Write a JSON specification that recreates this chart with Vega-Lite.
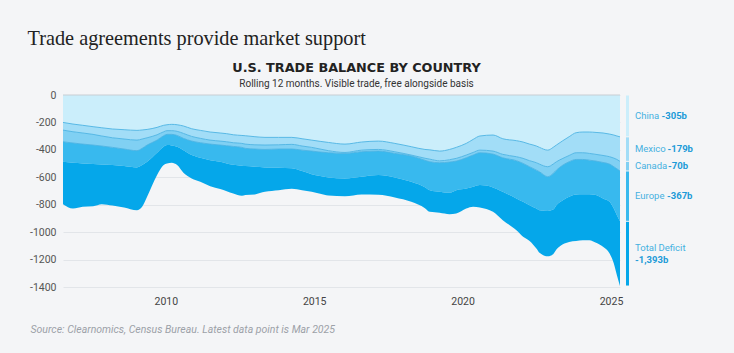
{
 "$schema": "https://vega.github.io/schema/vega-lite/v6.json",
 "width": 557,
 "height": 192,
 "autosize": {"type": "none"},
 "padding": {"left": 63, "top": 95, "right": 114, "bottom": 66},
 "background": "#f4f5f7",
 "config": {"view": {"stroke": null}, "font": "Roboto"},
 "title": {"text": "U.S. TRADE BALANCE BY COUNTRY", "subtitle": "Rolling 12 months. Visible trade, free alongside basis", "anchor": "middle", "frame": "group", "dx": 15, "font": "DejaVu Sans", "fontSize": 12.8, "fontWeight": "bold", "color": "#222222", "subtitleFont": "Roboto", "subtitleFontSize": 10, "subtitleColor": "#333333", "subtitlePadding": 4, "offset": -61},
 "datasets": {
  "main": [
{"d":"2006-07-15","c":"China","v":-200},{"d":"2006-07-15","c":"Mexico","v":-56},{"d":"2006-07-15","c":"Canada","v":-85},{"d":"2006-07-15","c":"Europe","v":-146},{"d":"2006-07-15","c":"Other","v":-309},
{"d":"2006-11-15","c":"China","v":-212},{"d":"2006-11-15","c":"Mexico","v":-56},{"d":"2006-11-15","c":"Canada","v":-82},{"d":"2006-11-15","c":"Europe","v":-144},{"d":"2006-11-15","c":"Other","v":-334},
{"d":"2007-03-15","c":"China","v":-221},{"d":"2007-03-15","c":"Mexico","v":-56},{"d":"2007-03-15","c":"Canada","v":-81},{"d":"2007-03-15","c":"Europe","v":-141},{"d":"2007-03-15","c":"Other","v":-316},
{"d":"2007-07-20","c":"China","v":-231},{"d":"2007-07-20","c":"Mexico","v":-56},{"d":"2007-07-20","c":"Canada","v":-78},{"d":"2007-07-20","c":"Europe","v":-139},{"d":"2007-07-20","c":"Other","v":-307},
{"d":"2007-11-05","c":"China","v":-239},{"d":"2007-11-05","c":"Mexico","v":-60},{"d":"2007-11-05","c":"Canada","v":-73},{"d":"2007-11-05","c":"Europe","v":-134},{"d":"2007-11-05","c":"Other","v":-290},
{"d":"2008-03-15","c":"China","v":-248},{"d":"2008-03-15","c":"Mexico","v":-64},{"d":"2008-03-15","c":"Canada","v":-70},{"d":"2008-03-15","c":"Europe","v":-129},{"d":"2008-03-15","c":"Other","v":-295},
{"d":"2008-08-05","c":"China","v":-253},{"d":"2008-08-05","c":"Mexico","v":-68},{"d":"2008-08-05","c":"Canada","v":-73},{"d":"2008-08-05","c":"Europe","v":-124},{"d":"2008-08-05","c":"Other","v":-302},
{"d":"2009-01-10","c":"China","v":-258},{"d":"2009-01-10","c":"Mexico","v":-71},{"d":"2009-01-10","c":"Canada","v":-77},{"d":"2009-01-10","c":"Europe","v":-122},{"d":"2009-01-10","c":"Other","v":-312},
{"d":"2009-03-15","c":"China","v":-255},{"d":"2009-03-15","c":"Mexico","v":-66},{"d":"2009-03-15","c":"Canada","v":-68},{"d":"2009-03-15","c":"Europe","v":-122},{"d":"2009-03-15","c":"Other","v":-304},
{"d":"2009-05-15","c":"China","v":-251},{"d":"2009-05-15","c":"Mexico","v":-61},{"d":"2009-05-15","c":"Canada","v":-53},{"d":"2009-05-15","c":"Europe","v":-122},{"d":"2009-05-15","c":"Other","v":-255},
{"d":"2009-09-15","c":"China","v":-236},{"d":"2009-09-15","c":"Mexico","v":-54},{"d":"2009-09-15","c":"Canada","v":-39},{"d":"2009-09-15","c":"Europe","v":-92},{"d":"2009-09-15","c":"Other","v":-163},
{"d":"2009-12-05","c":"China","v":-221},{"d":"2009-12-05","c":"Mexico","v":-47},{"d":"2009-12-05","c":"Canada","v":-29},{"d":"2009-12-05","c":"Europe","v":-80},{"d":"2009-12-05","c":"Other","v":-134},
{"d":"2010-01-15","c":"China","v":-217},{"d":"2010-01-15","c":"Mexico","v":-43},{"d":"2010-01-15","c":"Canada","v":-27},{"d":"2010-01-15","c":"Europe","v":-78},{"d":"2010-01-15","c":"Other","v":-134},
{"d":"2010-03-15","c":"China","v":-214},{"d":"2010-03-15","c":"Mexico","v":-46},{"d":"2010-03-15","c":"Canada","v":-27},{"d":"2010-03-15","c":"Europe","v":-81},{"d":"2010-03-15","c":"Other","v":-126},
{"d":"2010-05-20","c":"China","v":-217},{"d":"2010-05-20","c":"Mexico","v":-48},{"d":"2010-05-20","c":"Canada","v":-30},{"d":"2010-05-20","c":"Europe","v":-82},{"d":"2010-05-20","c":"Other","v":-134},
{"d":"2010-08-05","c":"China","v":-226},{"d":"2010-08-05","c":"Mexico","v":-54},{"d":"2010-08-05","c":"Canada","v":-36},{"d":"2010-08-05","c":"Europe","v":-86},{"d":"2010-08-05","c":"Other","v":-165},
{"d":"2010-11-15","c":"China","v":-246},{"d":"2010-11-15","c":"Mexico","v":-56},{"d":"2010-11-15","c":"Canada","v":-34},{"d":"2010-11-15","c":"Europe","v":-102},{"d":"2010-11-15","c":"Other","v":-171},
{"d":"2011-03-01","c":"China","v":-258},{"d":"2011-03-01","c":"Mexico","v":-58},{"d":"2011-03-01","c":"Canada","v":-32},{"d":"2011-03-01","c":"Europe","v":-110},{"d":"2011-03-01","c":"Other","v":-175},
{"d":"2011-07-01","c":"China","v":-270},{"d":"2011-07-01","c":"Mexico","v":-59},{"d":"2011-07-01","c":"Canada","v":-29},{"d":"2011-07-01","c":"Europe","v":-117},{"d":"2011-07-01","c":"Other","v":-190},
{"d":"2011-11-01","c":"China","v":-277},{"d":"2011-11-01","c":"Mexico","v":-59},{"d":"2011-11-01","c":"Canada","v":-29},{"d":"2011-11-01","c":"Europe","v":-122},{"d":"2011-11-01","c":"Other","v":-199},
{"d":"2012-01-20","c":"China","v":-282},{"d":"2012-01-20","c":"Mexico","v":-59},{"d":"2012-01-20","c":"Canada","v":-29},{"d":"2012-01-20","c":"Europe","v":-129},{"d":"2012-01-20","c":"Other","v":-202},
{"d":"2012-04-10","c":"China","v":-290},{"d":"2012-04-10","c":"Mexico","v":-58},{"d":"2012-04-10","c":"Canada","v":-27},{"d":"2012-04-10","c":"Europe","v":-134},{"d":"2012-04-10","c":"Other","v":-209},
{"d":"2012-07-25","c":"China","v":-295},{"d":"2012-07-25","c":"Mexico","v":-58},{"d":"2012-07-25","c":"Canada","v":-29},{"d":"2012-07-25","c":"Europe","v":-134},{"d":"2012-07-25","c":"Other","v":-219},
{"d":"2012-09-05","c":"China","v":-297},{"d":"2012-09-05","c":"Mexico","v":-61},{"d":"2012-09-05","c":"Canada","v":-31},{"d":"2012-09-05","c":"Europe","v":-129},{"d":"2012-09-05","c":"Other","v":-212},
{"d":"2013-01-01","c":"China","v":-304},{"d":"2013-01-01","c":"Mexico","v":-59},{"d":"2013-01-01","c":"Canada","v":-31},{"d":"2013-01-01","c":"Europe","v":-129},{"d":"2013-01-01","c":"Other","v":-202},
{"d":"2013-05-05","c":"China","v":-309},{"d":"2013-05-05","c":"Mexico","v":-56},{"d":"2013-05-05","c":"Canada","v":-32},{"d":"2013-05-05","c":"Europe","v":-131},{"d":"2013-05-05","c":"Other","v":-178},
{"d":"2013-10-20","c":"China","v":-309},{"d":"2013-10-20","c":"Mexico","v":-54},{"d":"2013-10-20","c":"Canada","v":-31},{"d":"2013-10-20","c":"Europe","v":-137},{"d":"2013-10-20","c":"Other","v":-163},
{"d":"2014-04-01","c":"China","v":-309},{"d":"2014-04-01","c":"Mexico","v":-51},{"d":"2014-04-01","c":"Canada","v":-34},{"d":"2014-04-01","c":"Europe","v":-141},{"d":"2014-04-01","c":"Other","v":-149},
{"d":"2014-08-05","c":"China","v":-319},{"d":"2014-08-05","c":"Mexico","v":-53},{"d":"2014-08-05","c":"Canada","v":-30},{"d":"2014-08-05","c":"Europe","v":-153},{"d":"2014-08-05","c":"Other","v":-139},
{"d":"2014-12-01","c":"China","v":-329},{"d":"2014-12-01","c":"Mexico","v":-53},{"d":"2014-12-01","c":"Canada","v":-27},{"d":"2014-12-01","c":"Europe","v":-168},{"d":"2014-12-01","c":"Other","v":-129},
{"d":"2015-03-15","c":"China","v":-338},{"d":"2015-03-15","c":"Mexico","v":-56},{"d":"2015-03-15","c":"Canada","v":-22},{"d":"2015-03-15","c":"Europe","v":-175},{"d":"2015-03-15","c":"Other","v":-129},
{"d":"2015-06-25","c":"China","v":-346},{"d":"2015-06-25","c":"Mexico","v":-60},{"d":"2015-06-25","c":"Canada","v":-15},{"d":"2015-06-25","c":"Europe","v":-180},{"d":"2015-06-25","c":"Other","v":-132},
{"d":"2016-01-15","c":"China","v":-358},{"d":"2016-01-15","c":"Mexico","v":-61},{"d":"2016-01-15","c":"Canada","v":-7},{"d":"2016-01-15","c":"Europe","v":-183},{"d":"2016-01-15","c":"Other","v":-129},
{"d":"2016-08-05","c":"China","v":-343},{"d":"2016-08-05","c":"Mexico","v":-59},{"d":"2016-08-05","c":"Canada","v":-12},{"d":"2016-08-05","c":"Europe","v":-182},{"d":"2016-08-05","c":"Other","v":-129},
{"d":"2017-03-01","c":"China","v":-336},{"d":"2017-03-01","c":"Mexico","v":-61},{"d":"2017-03-01","c":"Canada","v":-12},{"d":"2017-03-01","c":"Europe","v":-175},{"d":"2017-03-01","c":"Other","v":-144},
{"d":"2017-09-20","c":"China","v":-353},{"d":"2017-09-20","c":"Mexico","v":-61},{"d":"2017-09-20","c":"Canada","v":-12},{"d":"2017-09-20","c":"Europe","v":-175},{"d":"2017-09-20","c":"Other","v":-146},
{"d":"2018-04-10","c":"China","v":-377},{"d":"2018-04-10","c":"Mexico","v":-61},{"d":"2018-04-10","c":"Canada","v":-7},{"d":"2018-04-10","c":"Europe","v":-188},{"d":"2018-04-10","c":"Other","v":-146},
{"d":"2018-09-25","c":"China","v":-397},{"d":"2018-09-25","c":"Mexico","v":-64},{"d":"2018-09-25","c":"Canada","v":-15},{"d":"2018-09-25","c":"Europe","v":-196},{"d":"2018-09-25","c":"Other","v":-153},
{"d":"2018-11-25","c":"China","v":-400},{"d":"2018-11-25","c":"Mexico","v":-68},{"d":"2018-11-25","c":"Canada","v":-19},{"d":"2018-11-25","c":"Europe","v":-207},{"d":"2018-11-25","c":"Other","v":-158},
{"d":"2019-03-25","c":"China","v":-409},{"d":"2019-03-25","c":"Mexico","v":-71},{"d":"2019-03-25","c":"Canada","v":-14},{"d":"2019-03-25","c":"Europe","v":-212},{"d":"2019-03-25","c":"Other","v":-153},
{"d":"2019-07-25","c":"China","v":-397},{"d":"2019-07-25","c":"Mexico","v":-75},{"d":"2019-07-25","c":"Canada","v":-17},{"d":"2019-07-25","c":"Europe","v":-224},{"d":"2019-07-25","c":"Other","v":-156},
{"d":"2019-10-15","c":"China","v":-382},{"d":"2019-10-15","c":"Mexico","v":-80},{"d":"2019-10-15","c":"Canada","v":-20},{"d":"2019-10-15","c":"Europe","v":-212},{"d":"2019-10-15","c":"Other","v":-170},
{"d":"2020-02-15","c":"China","v":-353},{"d":"2020-02-15","c":"Mexico","v":-85},{"d":"2020-02-15","c":"Canada","v":-20},{"d":"2020-02-15","c":"Europe","v":-224},{"d":"2020-02-15","c":"Other","v":-146},
{"d":"2020-05-10","c":"China","v":-324},{"d":"2020-05-10","c":"Mexico","v":-95},{"d":"2020-05-10","c":"Canada","v":-19},{"d":"2020-05-10","c":"Europe","v":-231},{"d":"2020-05-10","c":"Other","v":-146},
{"d":"2020-08-01","c":"China","v":-299},{"d":"2020-08-01","c":"Mexico","v":-103},{"d":"2020-08-01","c":"Canada","v":-19},{"d":"2020-08-01","c":"Europe","v":-236},{"d":"2020-08-01","c":"Other","v":-163},
{"d":"2021-01-10","c":"China","v":-292},{"d":"2021-01-10","c":"Mexico","v":-117},{"d":"2021-01-10","c":"Canada","v":-22},{"d":"2021-01-10","c":"Europe","v":-243},{"d":"2021-01-10","c":"Other","v":-178},
{"d":"2021-05-10","c":"China","v":-319},{"d":"2021-05-10","c":"Mexico","v":-114},{"d":"2021-05-10","c":"Canada","v":-25},{"d":"2021-05-10","c":"Europe","v":-248},{"d":"2021-05-10","c":"Other","v":-207},
{"d":"2021-10-25","c":"China","v":-333},{"d":"2021-10-25","c":"Mexico","v":-117},{"d":"2021-10-25","c":"Canada","v":-29},{"d":"2021-10-25","c":"Europe","v":-276},{"d":"2021-10-25","c":"Other","v":-231},
{"d":"2022-01-15","c":"China","v":-343},{"d":"2022-01-15","c":"Mexico","v":-119},{"d":"2022-01-15","c":"Canada","v":-37},{"d":"2022-01-15","c":"Europe","v":-280},{"d":"2022-01-15","c":"Other","v":-255},
{"d":"2022-04-05","c":"China","v":-358},{"d":"2022-04-05","c":"Mexico","v":-121},{"d":"2022-04-05","c":"Canada","v":-44},{"d":"2022-04-05","c":"Europe","v":-280},{"d":"2022-04-05","c":"Other","v":-261},
{"d":"2022-06-28","c":"China","v":-372},{"d":"2022-06-28","c":"Mexico","v":-122},{"d":"2022-06-28","c":"Canada","v":-54},{"d":"2022-06-28","c":"Europe","v":-280},{"d":"2022-06-28","c":"Other","v":-292},
{"d":"2022-08-05","c":"China","v":-382},{"d":"2022-08-05","c":"Mexico","v":-122},{"d":"2022-08-05","c":"Canada","v":-56},{"d":"2022-08-05","c":"Europe","v":-280},{"d":"2022-08-05","c":"Other","v":-311},
{"d":"2022-11-15","c":"China","v":-402},{"d":"2022-11-15","c":"Mexico","v":-121},{"d":"2022-11-15","c":"Canada","v":-73},{"d":"2022-11-15","c":"Europe","v":-249},{"d":"2022-11-15","c":"Other","v":-331},
{"d":"2023-01-20","c":"China","v":-382},{"d":"2023-01-20","c":"Mexico","v":-122},{"d":"2023-01-20","c":"Canada","v":-68},{"d":"2023-01-20","c":"Europe","v":-263},{"d":"2023-01-20","c":"Other","v":-326},
{"d":"2023-03-01","c":"China","v":-365},{"d":"2023-03-01","c":"Mexico","v":-122},{"d":"2023-03-01","c":"Canada","v":-61},{"d":"2023-03-01","c":"Europe","v":-255},{"d":"2023-03-01","c":"Other","v":-324},
{"d":"2023-05-20","c":"China","v":-333},{"d":"2023-05-20","c":"Mexico","v":-129},{"d":"2023-05-20","c":"Canada","v":-49},{"d":"2023-05-20","c":"Europe","v":-256},{"d":"2023-05-20","c":"Other","v":-321},
{"d":"2023-08-05","c":"China","v":-304},{"d":"2023-08-05","c":"Mexico","v":-137},{"d":"2023-08-05","c":"Canada","v":-46},{"d":"2023-08-05","c":"Europe","v":-255},{"d":"2023-08-05","c":"Other","v":-329},
{"d":"2023-10-30","c":"China","v":-275},{"d":"2023-10-30","c":"Mexico","v":-146},{"d":"2023-10-30","c":"Canada","v":-49},{"d":"2023-10-30","c":"Europe","v":-255},{"d":"2023-10-30","c":"Other","v":-339},
{"d":"2024-01-20","c":"China","v":-270},{"d":"2024-01-20","c":"Mexico","v":-151},{"d":"2024-01-20","c":"Canada","v":-49},{"d":"2024-01-20","c":"Europe","v":-253},{"d":"2024-01-20","c":"Other","v":-336},
{"d":"2024-04-10","c":"China","v":-270},{"d":"2024-04-10","c":"Mexico","v":-156},{"d":"2024-04-10","c":"Canada","v":-49},{"d":"2024-04-10","c":"Europe","v":-248},{"d":"2024-04-10","c":"Other","v":-336},
{"d":"2024-07-01","c":"China","v":-273},{"d":"2024-07-01","c":"Mexico","v":-160},{"d":"2024-07-01","c":"Canada","v":-49},{"d":"2024-07-01","c":"Europe","v":-248},{"d":"2024-07-01","c":"Other","v":-348},
{"d":"2024-09-25","c":"China","v":-277},{"d":"2024-09-25","c":"Mexico","v":-164},{"d":"2024-09-25","c":"Canada","v":-51},{"d":"2024-09-25","c":"Europe","v":-263},{"d":"2024-09-25","c":"Other","v":-352},
{"d":"2024-12-15","c":"China","v":-285},{"d":"2024-12-15","c":"Mexico","v":-165},{"d":"2024-12-15","c":"Canada","v":-54},{"d":"2024-12-15","c":"Europe","v":-275},{"d":"2024-12-15","c":"Other","v":-377},
{"d":"2025-02-05","c":"China","v":-292},{"d":"2025-02-05","c":"Mexico","v":-168},{"d":"2025-02-05","c":"Canada","v":-63},{"d":"2025-02-05","c":"Europe","v":-305},{"d":"2025-02-05","c":"Other","v":-401},
{"d":"2025-03-15","c":"China","v":-299},{"d":"2025-03-15","c":"Mexico","v":-171},{"d":"2025-03-15","c":"Canada","v":-68},{"d":"2025-03-15","c":"Europe","v":-338},{"d":"2025-03-15","c":"Other","v":-438},
{"d":"2025-04-22","c":"China","v":-305},{"d":"2025-04-22","c":"Mexico","v":-179},{"d":"2025-04-22","c":"Canada","v":-70},{"d":"2025-04-22","c":"Europe","v":-367},{"d":"2025-04-22","c":"Other","v":-472}
  ],
  "end": [
   {"d":"2025-04-22","c":"China","name":"China","amt":"-305b","hi":0,"lo":-305},
   {"d":"2025-04-22","c":"Mexico","name":"Mexico","amt":"-179b","hi":-305,"lo":-484},
   {"d":"2025-04-22","c":"Canada","name":"Canada","amt":"-70b","hi":-484,"lo":-554},
   {"d":"2025-04-22","c":"Europe","name":"Europe","amt":"-367b","hi":-554,"lo":-921},
   {"d":"2025-04-22","c":"Other","name":"Total Deficit","amt":"-1,393b","hi":-921,"lo":-1393}
  ]
 },
 "layer": [
  {
   "data": {"name": "main"},
   "transform": [
    {"calculate": "indexof(['China','Mexico','Canada','Europe','Other'], datum.c)", "as": "o"},
    {"stack": "v", "groupby": ["d"], "sort": [{"field": "o", "order": "ascending"}], "offset": "zero", "as": ["v0", "v1"]}
   ],
   "mark": {"type": "area", "interpolate": "monotone"},
   "encoding": {
    "x": {"field": "d", "type": "temporal", "scale": {"domain": [{"year": 2006, "month": 7, "date": 15}, {"year": 2025, "month": 4, "date": 22}]},
     "axis": {"values": [{"year": 2010}, {"year": 2015}, {"year": 2020}, {"year": 2025}], "tickCount": 20, "format": "%Y", "ticks": false, "domain": false, "grid": false, "labelColor": "#444444", "labelFontSize": 10.5, "labelPadding": 9, "labelFont": "Roboto",
      "title": "Source: Clearnomics, Census Bureau. Latest data point is Mar 2025", "titleX": -33, "titleY": 45, "titleAlign": "left", "titleAnchor": "start", "titleBaseline": "alphabetic", "titleFont": "Roboto", "titleFontStyle": "italic", "titleFontWeight": "normal", "titleColor": "#9ca1a8", "titleFontSize": 10.5}},
    "y": {"field": "v1", "type": "quantitative", "scale": {"domain": [-1400, 0], "nice": false},
     "axis": {"values": [-1400, -1200, -1000, -800, -600, -400, -200, 0], "tickCount": 20, "labelExpr": "datum.value + ''", "labelOverlap": false, "ticks": false, "domain": false, "gridColor": "#e2e5e9", "labelColor": "#555555", "labelFontSize": 10.5, "labelPadding": 7, "labelFont": "Roboto",
      "title": "Trade agreements provide market support", "titleAngle": 0, "titleX": -36, "titleY": -51, "titleAlign": "left", "titleAnchor": "start", "titleBaseline": "alphabetic", "titleFont": "Liberation Serif", "titleFontSize": 20.3, "titleFontWeight": "normal", "titleColor": "#222222"}},
    "y2": {"field": "v0"},
    "color": {"field": "c", "type": "nominal", "scale": {"domain": ["China", "Mexico", "Canada", "Europe", "Other"], "range": ["#cbeefb", "#a2ddf7", "#80d0f3", "#38b9ee", "#05a7ea"]}, "legend": null}
   }
  },
  {
   "data": {"name": "main"},
   "transform": [
    {"calculate": "indexof(['China','Mexico','Canada','Europe','Other'], datum.c)", "as": "o"},
    {"filter": "datum.o < 3"},
    {"stack": "v", "groupby": ["d"], "sort": [{"field": "o", "order": "ascending"}], "offset": "zero", "as": ["v0", "v1"]}
   ],
   "mark": {"type": "line", "interpolate": "monotone", "color": "#4cb3e3", "strokeWidth": 0.9},
   "encoding": {
    "x": {"field": "d", "type": "temporal"},
    "y": {"field": "v1", "type": "quantitative"},
    "detail": {"field": "c", "type": "nominal"}
   }
  },
  {
   "data": {"values": [{}]},
   "mark": {"type": "rule", "color": "#c8cdd4", "strokeWidth": 1.2},
   "encoding": {"y": {"datum": 0}}
  },
  {
   "data": {"name": "end"},
   "mark": {"type": "rect", "xOffset": 6, "x2Offset": 9, "yOffset": 0.5, "y2Offset": -0.5},
   "encoding": {
    "x": {"field": "d", "type": "temporal"},
    "x2": {"field": "d"},
    "y": {"field": "hi", "type": "quantitative"},
    "y2": {"field": "lo"},
    "color": {"field": "c", "type": "nominal"}
   }
  },
  {
   "data": {"name": "end"},
   "transform": [{"calculate": "(datum.hi + datum.lo) / 2", "as": "mid"}, {"filter": "datum.c != 'Other'"}],
   "mark": {"type": "text", "align": "left", "baseline": "middle", "dx": 15, "fontSize": 9.5, "font": "Roboto", "color": "#45b1e1"},
   "encoding": {"x": {"field": "d", "type": "temporal"}, "y": {"field": "mid", "type": "quantitative"}, "text": {"field": "name"}}
  },
  {
   "data": {"name": "end"},
   "transform": [{"calculate": "(datum.hi + datum.lo) / 2", "as": "mid"}, {"filter": "datum.c == 'China'"}],
   "mark": {"type": "text", "align": "left", "baseline": "middle", "dx": 41.5, "fontSize": 9.5, "font": "Roboto", "fontWeight": "bold", "color": "#1c9bd8"},
   "encoding": {"x": {"field": "d", "type": "temporal"}, "y": {"field": "mid", "type": "quantitative"}, "text": {"field": "amt"}}
  },
  {
   "data": {"name": "end"},
   "transform": [{"calculate": "(datum.hi + datum.lo) / 2", "as": "mid"}, {"filter": "datum.c == 'Mexico'"}],
   "mark": {"type": "text", "align": "left", "baseline": "middle", "dx": 47.5, "fontSize": 9.5, "font": "Roboto", "fontWeight": "bold", "color": "#1c9bd8"},
   "encoding": {"x": {"field": "d", "type": "temporal"}, "y": {"field": "mid", "type": "quantitative"}, "text": {"field": "amt"}}
  },
  {
   "data": {"name": "end"},
   "transform": [{"calculate": "(datum.hi + datum.lo) / 2", "as": "mid"}, {"filter": "datum.c == 'Canada'"}],
   "mark": {"type": "text", "align": "left", "baseline": "middle", "dx": 48, "fontSize": 9.5, "font": "Roboto", "fontWeight": "bold", "color": "#1c9bd8"},
   "encoding": {"x": {"field": "d", "type": "temporal"}, "y": {"field": "mid", "type": "quantitative"}, "text": {"field": "amt"}}
  },
  {
   "data": {"name": "end"},
   "transform": [{"calculate": "(datum.hi + datum.lo) / 2", "as": "mid"}, {"filter": "datum.c == 'Europe'"}],
   "mark": {"type": "text", "align": "left", "baseline": "middle", "dx": 47, "fontSize": 9.5, "font": "Roboto", "fontWeight": "bold", "color": "#1c9bd8"},
   "encoding": {"x": {"field": "d", "type": "temporal"}, "y": {"field": "mid", "type": "quantitative"}, "text": {"field": "amt"}}
  },
  {
   "data": {"name": "end"},
   "transform": [{"calculate": "(datum.hi + datum.lo) / 2", "as": "mid"}, {"filter": "datum.c == 'Other'"}],
   "mark": {"type": "text", "align": "left", "baseline": "middle", "dx": 15, "dy": -6, "fontSize": 9.5, "font": "Roboto", "color": "#45b1e1"},
   "encoding": {"x": {"field": "d", "type": "temporal"}, "y": {"field": "mid", "type": "quantitative"}, "text": {"field": "name"}}
  },
  {
   "data": {"name": "end"},
   "transform": [{"calculate": "(datum.hi + datum.lo) / 2", "as": "mid"}, {"filter": "datum.c == 'Other'"}],
   "mark": {"type": "text", "align": "left", "baseline": "middle", "dx": 15, "dy": 6, "fontSize": 9.5, "font": "Roboto", "fontWeight": "bold", "color": "#1c9bd8"},
   "encoding": {"x": {"field": "d", "type": "temporal"}, "y": {"field": "mid", "type": "quantitative"}, "text": {"field": "amt"}}
  }
 ]
}
